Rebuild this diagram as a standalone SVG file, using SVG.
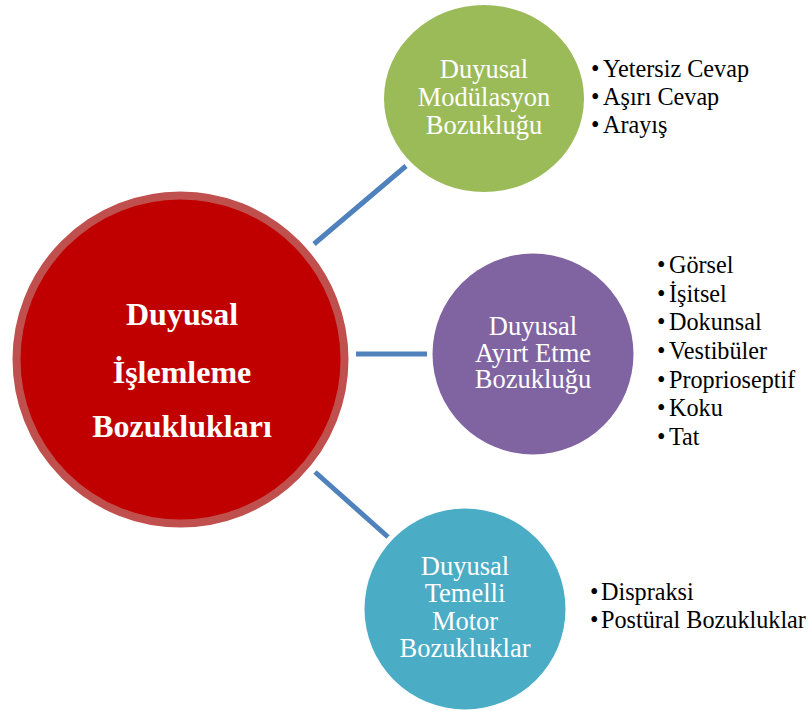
<svg xmlns="http://www.w3.org/2000/svg" width="808" height="711" viewBox="0 0 808 711">
<style>
text{font-family:'Liberation Serif','Times New Roman',Tinos,'DejaVu Serif',serif}
.ct{font-size:26.5px;fill:#ffffff;text-anchor:middle}
.mt{font-size:32px;font-weight:bold;fill:#ffffff;text-anchor:middle}
.bt{font-size:24.2px;fill:#000000}
.conn{stroke:#4F81BD;stroke-width:5;fill:none}
</style>
<rect width="808" height="711" fill="#ffffff"/>
<g id="connectors">
<line class="conn" x1="314" y1="244" x2="406" y2="166"/>
<line class="conn" x1="356" y1="354" x2="427" y2="354"/>
<line class="conn" x1="315" y1="472" x2="388" y2="537"/>
</g>
<g id="main">
<circle cx="180.5" cy="359.5" r="164" fill="#C00000" stroke="#C0504D" stroke-width="8"/>
<text class="mt" x="182" y="325">Duyusal</text>
<text class="mt" x="182" y="383">İşlemleme</text>
<text class="mt" x="182" y="437">Bozuklukları</text>
</g>
<g id="modulasyon">
<ellipse cx="484" cy="98.5" rx="100" ry="93.5" fill="#9BBB59"/>
<text class="ct" x="484" y="78">Duyusal</text>
<text class="ct" x="484" y="106">Modülasyon</text>
<text class="ct" x="484" y="134">Bozukluğu</text>
</g>
<g id="modulasyon-list">
<text class="bt" x="591" y="77">•</text><text class="bt" x="603" y="77">Yetersiz Cevap</text>
<text class="bt" x="591" y="105">•</text><text class="bt" x="603" y="105">Aşırı Cevap</text>
<text class="bt" x="591" y="133">•</text><text class="bt" x="603" y="133">Arayış</text>
</g>
<g id="ayirt">
<circle cx="533" cy="354" r="100.5" fill="#8064A2"/>
<text class="ct" x="533" y="335">Duyusal</text>
<text class="ct" x="533" y="362">Ayırt Etme</text>
<text class="ct" x="533" y="388">Bozukluğu</text>
</g>
<g id="ayirt-list">
<text class="bt" x="657" y="273">•</text><text class="bt" x="669" y="273">Görsel</text>
<text class="bt" x="657" y="302">•</text><text class="bt" x="669" y="302">İşitsel</text>
<text class="bt" x="657" y="330">•</text><text class="bt" x="669" y="330">Dokunsal</text>
<text class="bt" x="657" y="359">•</text><text class="bt" x="669" y="359">Vestibüler</text>
<text class="bt" x="657" y="388">•</text><text class="bt" x="669" y="388">Proprioseptif</text>
<text class="bt" x="657" y="416">•</text><text class="bt" x="669" y="416">Koku</text>
<text class="bt" x="657" y="445">•</text><text class="bt" x="669" y="445">Tat</text>
</g>
<g id="motor">
<circle cx="465" cy="609" r="100.5" fill="#4BACC6"/>
<text class="ct" x="465" y="575">Duyusal</text>
<text class="ct" x="465" y="602">Temelli</text>
<text class="ct" x="465" y="630">Motor</text>
<text class="ct" x="465" y="657">Bozukluklar</text>
</g>
<g id="motor-list">
<text class="bt" x="590" y="600">•</text><text class="bt" x="601" y="600">Dispraksi</text>
<text class="bt" x="590" y="628">•</text><text class="bt" x="601" y="628">Postüral Bozukluklar</text>
</g>
</svg>
